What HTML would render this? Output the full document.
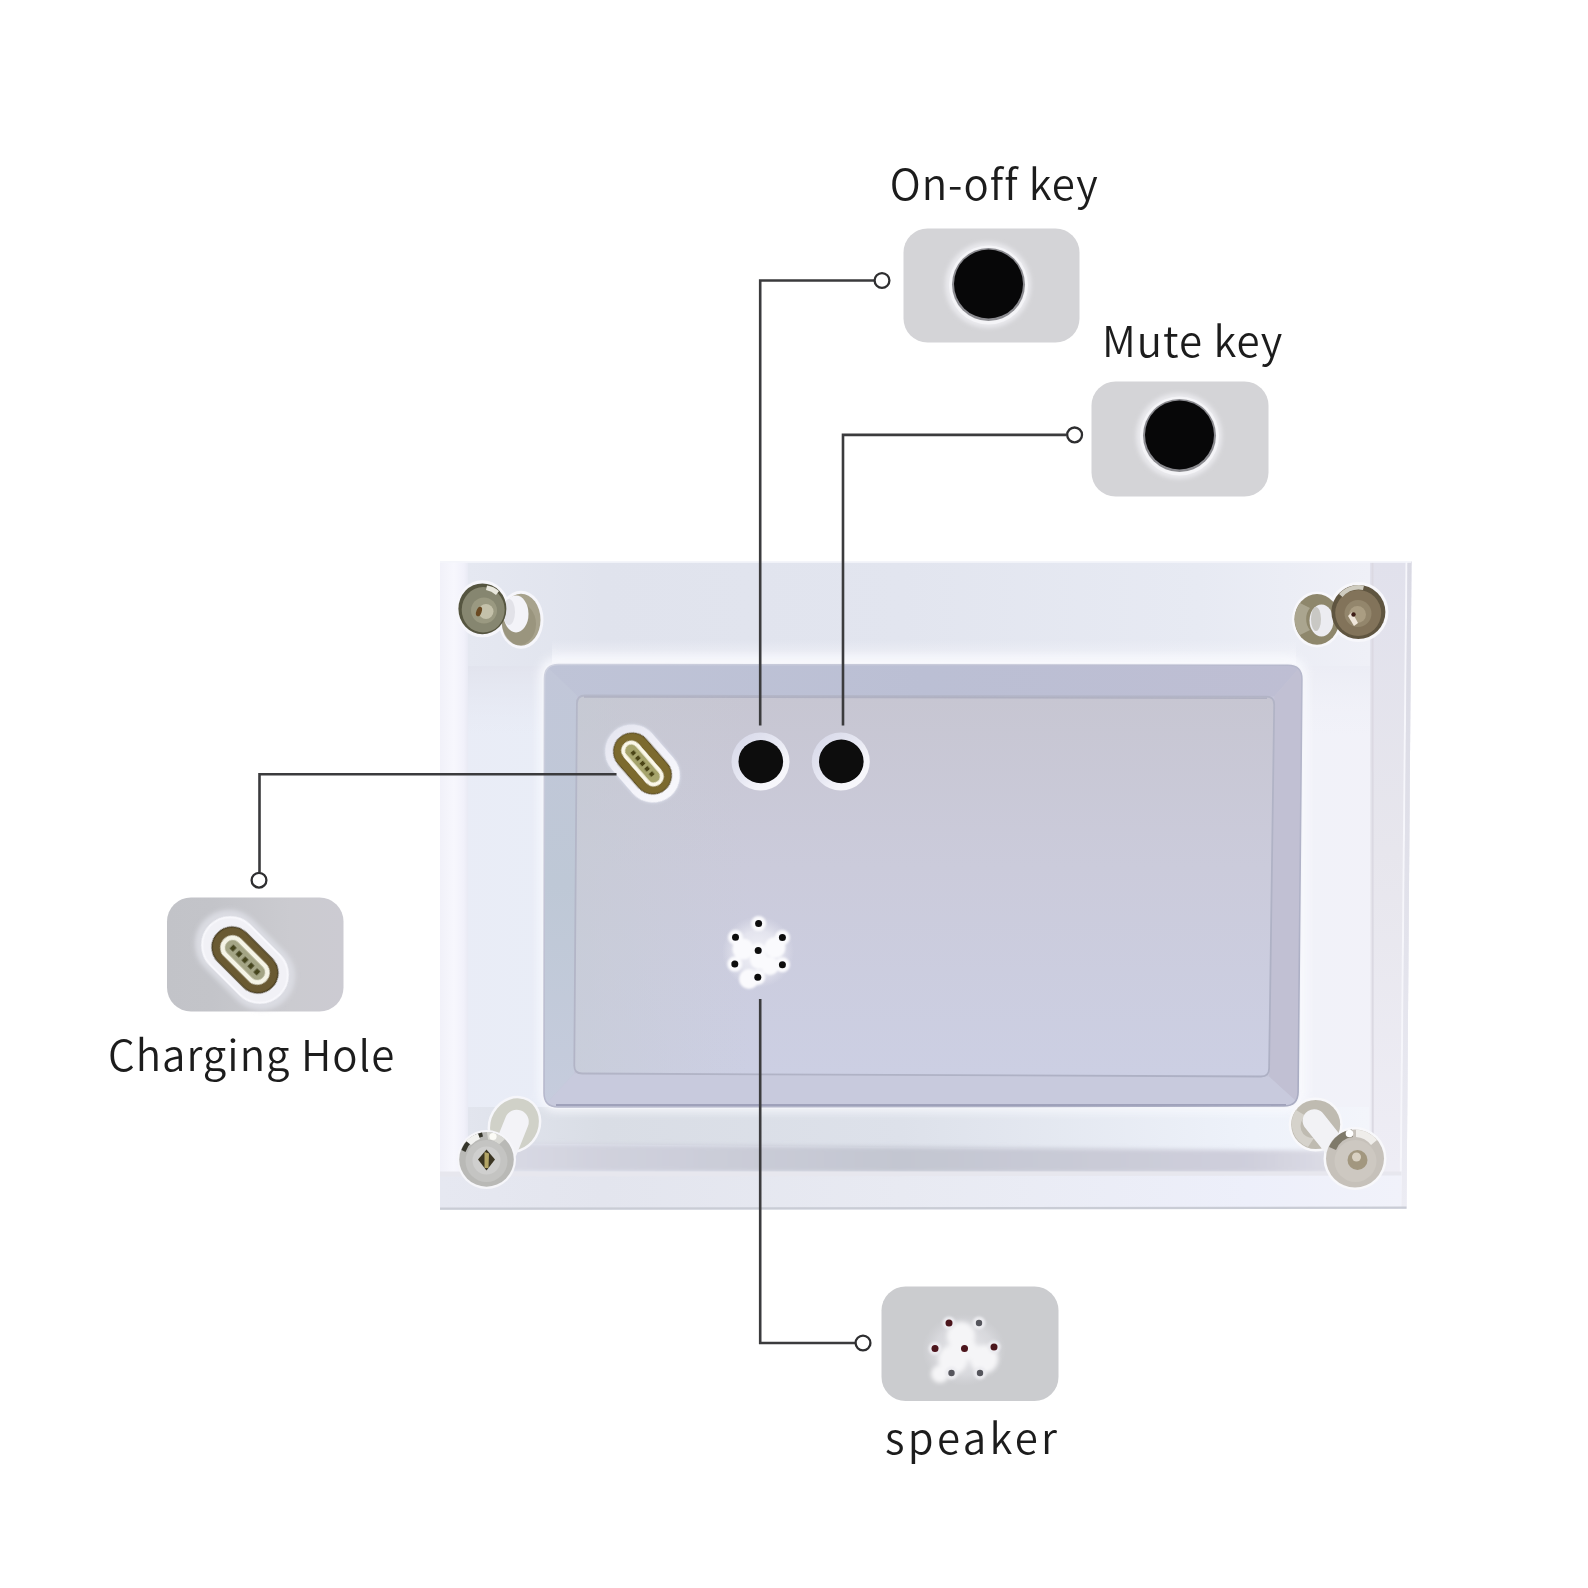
<!DOCTYPE html>
<html lang="en">
<head>
<meta charset="utf-8">
<title>Frame back – keys and ports</title>
<style>
html,body{margin:0;padding:0;background:#fff;}
body{width:1588px;height:1588px;overflow:hidden;}
svg{display:block;}
.lbl{font-family:"Noto Sans CJK SC","Liberation Sans",sans-serif;font-weight:350;font-size:42px;fill:#1c1c1c;font-variant-ligatures:none;}
.ln{fill:none;stroke:#3b3b3d;stroke-width:2.6;stroke-linejoin:miter;}
.mk{fill:#fff;stroke:#2e2e30;stroke-width:2.3;}
</style>
</head>
<body>
<svg width="1588" height="1588" viewBox="0 0 1588 1588">
<defs>
  <linearGradient id="gFrame" x1="0" y1="0" x2="1" y2="0">
    <stop offset="0" stop-color="#e9ecf6"/>
    <stop offset="0.12" stop-color="#e9edf7"/>
    <stop offset="0.5" stop-color="#eaedf6"/>
    <stop offset="0.88" stop-color="#f1f2f9"/>
    <stop offset="1" stop-color="#f2f2f9"/>
  </linearGradient>
  <linearGradient id="gTopBand" x1="0" y1="0" x2="1" y2="0">
    <stop offset="0" stop-color="#e5e8f1"/>
    <stop offset="0.15" stop-color="#e0e3ed"/>
    <stop offset="0.48" stop-color="#e2e5ef"/>
    <stop offset="0.81" stop-color="#e7eaf3"/>
    <stop offset="1" stop-color="#eff0f7"/>
  </linearGradient>
  <linearGradient id="gTopFade" x1="0" y1="0" x2="0" y2="1">
    <stop offset="0" stop-color="#f2f3f9" stop-opacity="0"/>
    <stop offset="0.6" stop-color="#f3f4fa" stop-opacity="0.7"/>
    <stop offset="1" stop-color="#f4f5fa" stop-opacity="0.95"/>
  </linearGradient>
  <linearGradient id="gBBand" x1="0" y1="0" x2="1" y2="0">
    <stop offset="0" stop-color="#e6e8f1"/>
    <stop offset="0.17" stop-color="#e3e5ee"/>
    <stop offset="0.48" stop-color="#e8eaf2"/>
    <stop offset="0.84" stop-color="#edeffa"/>
    <stop offset="1" stop-color="#f1f2fa"/>
  </linearGradient>
  <linearGradient id="gRimT" x1="0" y1="0" x2="1" y2="0">
    <stop offset="0" stop-color="#bfc4d7"/>
    <stop offset="0.5" stop-color="#bbbfd4"/>
    <stop offset="1" stop-color="#bebed3"/>
  </linearGradient>
  <linearGradient id="gRimLft" x1="0" y1="0" x2="0" y2="1">
    <stop offset="0" stop-color="#c2c7d9"/>
    <stop offset="0.5" stop-color="#bec8d6"/>
    <stop offset="1" stop-color="#c6ccdd"/>
  </linearGradient>
  <linearGradient id="gInnerH" x1="0" y1="0" x2="1" y2="0">
    <stop offset="0" stop-color="#c6ccd4" stop-opacity="0.55"/>
    <stop offset="0.25" stop-color="#c8ccd6" stop-opacity="0"/>
    <stop offset="1" stop-color="#c8c8d6" stop-opacity="0"/>
  </linearGradient>
  <linearGradient id="gInner" x1="0" y1="0" x2="1" y2="0">
    <stop offset="0" stop-color="#d4d5e0"/>
    <stop offset="0.5" stop-color="#d2d3de"/>
    <stop offset="1" stop-color="#d0d1dc"/>
  </linearGradient>
  <linearGradient id="gRim" x1="0" y1="0" x2="0" y2="1">
    <stop offset="0" stop-color="#c6c8dc"/>
    <stop offset="0.5" stop-color="#c7c9dd"/>
    <stop offset="1" stop-color="#cacee0"/>
  </linearGradient>
  <linearGradient id="gLeft" x1="0" y1="0" x2="1" y2="0">
    <stop offset="0" stop-color="#f1f1f9"/>
    <stop offset="0.5" stop-color="#f7f7fd"/>
    <stop offset="0.85" stop-color="#f1f1fa"/>
    <stop offset="1" stop-color="#e9eaf4"/>
  </linearGradient>
  <linearGradient id="gRight" x1="0" y1="0" x2="0" y2="1">
    <stop offset="0" stop-color="#e1e1ec"/>
    <stop offset="0.45" stop-color="#e7e6ed"/>
    <stop offset="1" stop-color="#efeef6"/>
  </linearGradient>
  <linearGradient id="gBand" x1="0" y1="0" x2="1" y2="0">
    <stop offset="0" stop-color="#dcdde7"/>
    <stop offset="0.15" stop-color="#d0d1dd"/>
    <stop offset="0.48" stop-color="#c3c6d1"/>
    <stop offset="0.87" stop-color="#cfcfdc"/>
    <stop offset="1" stop-color="#e2e2ea"/>
  </linearGradient>
  <linearGradient id="gRimEdge" x1="0" y1="0" x2="1" y2="1">
    <stop offset="0" stop-color="#cfd2e0"/>
    <stop offset="0.5" stop-color="#b6b8cc"/>
    <stop offset="1" stop-color="#a9acc2"/>
  </linearGradient>
  <linearGradient id="gInnerEdge" x1="0" y1="0" x2="1" y2="1">
    <stop offset="0" stop-color="#b4b7c8"/>
    <stop offset="0.5" stop-color="#b2b4c6"/>
    <stop offset="1" stop-color="#adb0c4"/>
  </linearGradient>
  <linearGradient id="gInnerV" x1="0" y1="0" x2="0" y2="1">
    <stop offset="0" stop-color="#c7c6d2"/>
    <stop offset="0.45" stop-color="#cbcbdb"/>
    <stop offset="1" stop-color="#cccfe3"/>
  </linearGradient>
  <radialGradient id="gInnerTR" cx="1" cy="0" r="0.6">
    <stop offset="0" stop-color="#c9cad6" stop-opacity="0.6"/>
    <stop offset="0.5" stop-color="#cbccd8" stop-opacity="0.25"/>
    <stop offset="1" stop-color="#cdceda" stop-opacity="0"/>
  </radialGradient>
  <linearGradient id="gEdgeR" x1="0" y1="0" x2="0" y2="1">
    <stop offset="0" stop-color="#d9d9e3"/>
    <stop offset="0.6" stop-color="#e3e3ec"/>
    <stop offset="1" stop-color="#ececf3"/>
  </linearGradient>
  <radialGradient id="gSpk" cx="0.5" cy="0.5" r="0.5">
    <stop offset="0" stop-color="#f4f4f9" stop-opacity="0.95"/>
    <stop offset="0.6" stop-color="#eeeef5" stop-opacity="0.7"/>
    <stop offset="1" stop-color="#e6e6ef" stop-opacity="0"/>
  </radialGradient>
  <linearGradient id="gRimL" x1="0" y1="0" x2="0" y2="1">
    <stop offset="0" stop-color="#b8c0d3" stop-opacity="0"/>
    <stop offset="0.3" stop-color="#bcc5d8" stop-opacity="0.45"/>
    <stop offset="0.7" stop-color="#bcc5d8" stop-opacity="0.45"/>
    <stop offset="1" stop-color="#b8c0d3" stop-opacity="0"/>
  </linearGradient>
  <radialGradient id="gSpk2" cx="0.5" cy="0.5" r="0.5">
    <stop offset="0" stop-color="#ececf0" stop-opacity="0.9"/>
    <stop offset="0.7" stop-color="#e4e4e9" stop-opacity="0.5"/>
    <stop offset="1" stop-color="#dcdce2" stop-opacity="0"/>
  </radialGradient>
  <linearGradient id="gWBand" x1="0" y1="0" x2="1" y2="0">
    <stop offset="0" stop-color="#e2e5ee"/>
    <stop offset="0.15" stop-color="#d9dde5"/>
    <stop offset="0.48" stop-color="#dde1ea"/>
    <stop offset="0.87" stop-color="#eef2fa"/>
    <stop offset="1" stop-color="#f3f5fb"/>
  </linearGradient>
  <radialGradient id="gInnerTL" cx="0" cy="0" r="0.32">
    <stop offset="0" stop-color="#dddee9" stop-opacity="0.95"/>
    <stop offset="0.5" stop-color="#d8d9e4" stop-opacity="0.5"/>
    <stop offset="1" stop-color="#d2d3de" stop-opacity="0"/>
  </radialGradient>
  <linearGradient id="gBoxC" x1="0" y1="0" x2="1" y2="0">
    <stop offset="0" stop-color="#c2c3c8"/>
    <stop offset="0.25" stop-color="#c3c4c9"/>
    <stop offset="0.7" stop-color="#cbcbd0"/>
    <stop offset="1" stop-color="#cccbd2"/>
  </linearGradient>
  <linearGradient id="gFadeL" x1="0" y1="0" x2="0" y2="1">
    <stop offset="0" stop-color="#e2e4ee" stop-opacity="1"/>
    <stop offset="1" stop-color="#e6e9f3" stop-opacity="0"/>
  </linearGradient>
  <linearGradient id="gFadeR" x1="0" y1="0" x2="0" y2="1">
    <stop offset="0" stop-color="#ecedf5" stop-opacity="1"/>
    <stop offset="1" stop-color="#eff0f7" stop-opacity="0"/>
  </linearGradient>
  <linearGradient id="gRing" x1="0.1" y1="0.1" x2="0.9" y2="0.9">
    <stop offset="0" stop-color="#d9daea"/>
    <stop offset="0.45" stop-color="#e6e7f2"/>
    <stop offset="0.75" stop-color="#f5f5fa"/>
    <stop offset="1" stop-color="#f8f8fc"/>
  </linearGradient>
  <linearGradient id="gRingU" x1="0" y1="0.5" x2="1" y2="0.5">
    <stop offset="0" stop-color="#e6e7f1"/>
    <stop offset="0.5" stop-color="#f1f1f8"/>
    <stop offset="1" stop-color="#f8f8fc"/>
  </linearGradient>
  <radialGradient id="gBtn" cx="0.5" cy="0.5" r="0.5">
    <stop offset="0" stop-color="#0a0a0b"/>
    <stop offset="0.9" stop-color="#0b0b0c"/>
    <stop offset="1" stop-color="#3a3a3c"/>
  </radialGradient>
  <filter id="b06" x="-5%" y="-5%" width="110%" height="110%"><feGaussianBlur stdDeviation="0.7"/></filter>
  <filter id="b1" x="-20%" y="-20%" width="140%" height="140%"><feGaussianBlur stdDeviation="1"/></filter>
  <filter id="b2" x="-20%" y="-20%" width="140%" height="140%"><feGaussianBlur stdDeviation="2"/></filter>
  <filter id="b4" x="-30%" y="-30%" width="160%" height="160%"><feGaussianBlur stdDeviation="4"/></filter>
</defs>

<rect width="1588" height="1588" fill="#ffffff"/>

<!-- ===== FRAME ===== -->
<g id="frame">
  <path d="M440 561.500 H1411.500 L1406.500 1208.800 L440 1209.800 Z" fill="url(#gFrame)"/>
  <!-- top band (darker, bluish) -->
  <path d="M468 561.500 H1370 V666 H468 Z" fill="url(#gTopBand)"/>
  <rect x="468" y="666" width="78" height="70" fill="url(#gFadeL)"/>
  <rect x="1300" y="666" width="70" height="70" fill="url(#gFadeR)"/>
  <path d="M552 640 H1296 V668 H552 Z" fill="url(#gTopFade)"/>
  <!-- left bevel -->
  <rect x="440" y="561.500" width="28" height="648" fill="url(#gLeft)"/>
  <!-- right bevel -->
  <path d="M1370 561.500 H1411.500 L1406.500 1208.500 H1370.500 Z" fill="url(#gRight)"/>
  <path d="M1371.500 561.500 h2 l0.300 647 h-2 Z" fill="#dbd9e2"/>
  <path d="M1405.500 561.500 h2 l-6 647 h-2 Z" fill="#f6f6fb"/>
  <path d="M1407.500 561.500 h4 l-5 647 h-5 Z" fill="url(#gEdgeR)"/>
  <!-- bottom bands -->
  <path d="M468 1107 H1369 V1152 L468 1143 Z" fill="url(#gWBand)"/>
  <path d="M468 1143 L1369 1151 V1173 L468 1171.500 Z" fill="url(#gBand)" filter="url(#b2)"/>
  <path d="M440 1176 L1401.500 1173.500 L1401 1208.800 L440 1209.800 Z" fill="url(#gBBand)"/>
  <path d="M440 1171.500 L1401.500 1171.500 v4 L440 1176.500 Z" fill="#e7e7ee"/>
  <path d="M440 1207.600 L1406.500 1206.600 v2.200 L440 1209.800 Z" fill="#c9ccd5"/>
  <rect x="440" y="561" width="971" height="1.800" fill="#f4f5fa"/>
</g>

<!-- ===== INNER PANEL ===== -->
<g id="panel">
  <clipPath id="cpPanel"><path d="M544.5 678.5 Q544.5 664.5 558.5 664.5 L1288.0 665.2 Q1302.0 665.2 1301.9 679.2 L1298.1 1092.0 Q1298.0 1106.0 1284.0 1106.0 L558.0 1107.0 Q544.0 1107.0 544.0 1093.0 Z"/></clipPath>
  <rect x="539" y="657" width="768" height="455" rx="18" fill="#fafbfe" opacity="0.8" filter="url(#b4)"/>
  <path d="M542.5 678.5 Q542.5 662.5 558.5 662.5 L1288.0 663.2 Q1304.0 663.2 1303.9 679.2 L1300.1 1092.0 Q1300.0 1108.0 1284.0 1108.0 L558.0 1109.0 Q542.0 1109.0 542.0 1093.0 Z" fill="#f4f5fa"/>
  <g clip-path="url(#cpPanel)">
    <rect x="540" y="660" width="766" height="450" fill="#c4c5d8"/>
    <path d="M540 660 H1306 L1274.300 696.500 H577 Z" fill="url(#gRimT)"/>
    <path d="M1306 660 V1110 L1269 1076.500 L1274.300 696.500 Z" fill="#c1c0d3"/>
    <path d="M540 1110 H1306 L1269 1076.500 L574.200 1073.500 Z" fill="#c8cadd"/>
    <path d="M540 660 V1110 L574.200 1073.500 L577 695.500 Z" fill="url(#gRimLft)"/>
  </g>
  <path d="M544.5 678.5 Q544.5 664.5 558.5 664.5 L1288.0 665.2 Q1302.0 665.2 1301.9 679.2 L1298.1 1092.0 Q1298.0 1106.0 1284.0 1106.0 L558.0 1107.0 Q544.0 1107.0 544.0 1093.0 Z" fill="none" stroke="url(#gRimEdge)" stroke-width="1.600"/>
  <path d="M556 1105.300 L1286 1104.300" stroke="#9598b2" stroke-width="2.600" opacity="0.8" fill="none" filter="url(#b06)"/>
  <path d="M576.9 703.5 Q577.0 695.5 585.0 695.5 L1266.3 696.7 Q1274.3 696.7 1274.2 704.7 L1269.1 1068.5 Q1269.0 1076.5 1261.0 1076.5 L582.2 1073.5 Q574.2 1073.5 574.3 1065.5 Z" fill="url(#gInnerV)"/>
  <path d="M576.9 703.5 Q577.0 695.5 585.0 695.5 L1266.3 696.7 Q1274.3 696.7 1274.2 704.7 L1269.1 1068.5 Q1269.0 1076.5 1261.0 1076.5 L582.2 1073.5 Q574.2 1073.5 574.3 1065.5 Z" fill="url(#gInnerH)"/>
  <path d="M576.9 703.5 Q577.0 695.5 585.0 695.5 L1266.3 696.7 Q1274.3 696.7 1274.2 704.7 L1269.1 1068.5 Q1269.0 1076.5 1261.0 1076.5 L582.2 1073.5 Q574.2 1073.5 574.3 1065.5 Z" fill="none" stroke="url(#gInnerEdge)" stroke-width="1.800"/>
  <path d="M584 697 L1267 698.200" stroke="#a6a8ba" stroke-width="1.600" opacity="0.7" fill="none"/>
</g>

<!-- ===== PANEL FEATURES ===== -->
<g id="features">
  <!-- on-off button on panel -->
  <g id="btnA" filter="url(#b06)">
    <circle cx="760.5" cy="761.5" r="29" fill="url(#gRing)"/>
    <ellipse cx="760.8" cy="761.6" rx="22.3" ry="21.6" fill="#070708"/>
  </g>
  <g id="btnB" filter="url(#b06)">
    <circle cx="840.8" cy="761.5" r="29" fill="url(#gRing)"/>
    <ellipse cx="841.3" cy="761.4" rx="22.3" ry="21.8" fill="#070708"/>
  </g>
  <!-- usb-c on panel -->
  <g id="usbA" transform="translate(642.500 763.500) rotate(49)" filter="url(#b06)">
    <rect x="-44" y="-28" width="88" height="56" rx="28" fill="#dfe3f0" opacity="0.55" filter="url(#b1)"/>
    <rect x="-43" y="-27" width="86" height="54" rx="27" fill="url(#gRingU)"/>
    <rect x="-35" y="-19.200" width="70" height="38.400" rx="19.200" fill="#5e4f22"/>
    <rect x="-33.800" y="-18" width="67.600" height="36" rx="18" fill="#7b6a2e"/>
    <rect x="-25.200" y="-8.200" width="50.400" height="16.400" rx="8.200" fill="#a6a46c" stroke="#fbf8e9" stroke-width="3.800"/>
    <path d="M-16 0 H16" stroke="#4b4519" stroke-width="4.600" stroke-dasharray="4 3" fill="none"/>
  </g>
  <!-- speaker on panel -->
  <g id="spkA">
    <circle cx="758" cy="952" r="36" fill="url(#gSpk)"/>
    <g fill="#fafafd" filter="url(#b1)">
      <circle cx="743" cy="949" r="10.500"/>
      <circle cx="775" cy="947.500" r="10.500"/>
      <circle cx="749" cy="979" r="10"/>
      <circle cx="770" cy="966" r="9"/>
      <circle cx="759" cy="960" r="9"/>
      <circle cx="758.6" cy="923.6" r="7.5"/>
      <circle cx="735.5" cy="937.2" r="7.5"/>
      <circle cx="782.4" cy="937.6" r="7.5"/>
      <circle cx="758.2" cy="950.5" r="7.5"/>
      <circle cx="734.8" cy="964.1" r="7.5"/>
      <circle cx="782.4" cy="964.8" r="7.5"/>
      <circle cx="757.8" cy="977.3" r="7.5"/>
    </g>
    <g fill="#0c0c0e" filter="url(#b06)">
      <circle cx="758.6" cy="923.6" r="3.5"/>
      <circle cx="735.5" cy="937.2" r="3.5"/>
      <circle cx="782.4" cy="937.6" r="3.5"/>
      <circle cx="758.2" cy="950.5" r="3.5"/>
      <circle cx="734.8" cy="964.1" r="3.5"/>
      <circle cx="782.4" cy="964.8" r="3.5"/>
      <circle cx="757.8" cy="977.3" r="3.5"/>
    </g>
  </g>
</g>

<!-- ===== BOLTS ===== -->
<g id="bolts" filter="url(#b06)">
  <!-- top-left -->
  <g>
    <ellipse cx="521" cy="619.700" rx="22.500" ry="29" fill="#f6f6fb"/>
    <ellipse cx="482.400" cy="608.800" rx="27" ry="28.500" fill="#f6f6fb"/>
    <ellipse cx="521" cy="619.700" rx="19.500" ry="26" fill="#a7a28c"/>
    <ellipse cx="519" cy="624" rx="17" ry="21" fill="#8f8b73" opacity="0.55"/>
    <ellipse cx="516" cy="614" rx="12.500" ry="18.500" fill="#f3f3f8"/>
    <ellipse cx="509" cy="612" rx="6" ry="13" fill="#e2e2e8"/>
    <ellipse cx="482.400" cy="608.800" rx="24" ry="25.400" fill="#55543f"/>
    <ellipse cx="483.200" cy="609.800" rx="21.500" ry="22.800" fill="#86866f"/>
    <path d="M487 585.500 A24 25 0 0 1 499 591 L496 595 A20 21 0 0 0 486 590 Z" fill="#e9e8de"/>
    <circle cx="484" cy="610.500" r="13" fill="#9a9981"/>
    <circle cx="486" cy="611.500" r="7.500" fill="#c4c1aa"/>
    <ellipse cx="479" cy="611.500" rx="2.600" ry="5" fill="#6a4a20" transform="rotate(20 479 611.500)"/>
  </g>
  <!-- top-right -->
  <g>
    <ellipse cx="1317" cy="619.400" rx="25" ry="28" fill="#f7f7fb"/>
    <circle cx="1358.400" cy="612" r="30" fill="#f7f7fb"/>
    <ellipse cx="1317" cy="619.400" rx="22.500" ry="25.400" fill="#8e876c"/>
    <path d="M1300 603 A22 24.500 0 0 0 1300 635 L1310 630 A12 15 0 0 1 1310 608 Z" fill="#aaa58f"/>
    <ellipse cx="1321.500" cy="620.500" rx="12" ry="16" fill="#ececf1"/>
    <ellipse cx="1316" cy="619" rx="5" ry="12" fill="#c9c8c4"/>
    <circle cx="1358.400" cy="612" r="27" fill="#5f543f"/>
    <circle cx="1358.200" cy="613" r="23" fill="#82735a"/>
    <path d="M1339 594 A27 27 0 0 1 1364 585.500 L1363 590 A22.500 22.500 0 0 0 1342.500 597 Z" fill="#cfccc0"/>
    <circle cx="1358" cy="613.500" r="13.500" fill="#93866c"/>
    <circle cx="1357.500" cy="614.500" r="8.500" fill="#aa9d82"/>
    <path d="M1348 616 L1352 612 L1358 623 L1354 626 Z" fill="#efe6da"/>
    <circle cx="1353.500" cy="614.500" r="2.200" fill="#3c1f14"/>
  </g>
  <!-- bottom-left -->
  <g>
    <ellipse cx="514.500" cy="1124.500" rx="26" ry="29.500" fill="#f6f6fa" transform="rotate(30 514.500 1124.500)"/>
    <ellipse cx="514.500" cy="1124.500" rx="23.500" ry="27" fill="#d0d1c8" transform="rotate(30 514.500 1124.500)"/>
    <path d="M494 1146 L505.500 1117.500 A12 12 0 0 1 528 1126 L516 1156 Z" fill="#f3f3f7"/>
    <circle cx="486.500" cy="1159.400" r="29.500" fill="#f6f6fa"/>
    <circle cx="486.500" cy="1159.400" r="27.300" fill="#b9b9b6"/>
    <path d="M461.500 1150 A27.300 27.300 0 0 1 482 1132.500 L483 1136.500 A23 23 0 0 0 465.500 1152 Z" fill="#35342c"/>
    <path d="M466 1141 A27 27 0 0 1 478 1133.500 L480 1139 A21 21 0 0 0 471 1145 Z" fill="#f2f2f0"/>
    <path d="M487 1132 A27.300 27.300 0 0 1 505 1139 L499 1144.500 A20 20 0 0 0 488 1139.500 Z" fill="#d9d9d4"/>
    <circle cx="493" cy="1136.500" r="3.600" fill="#fbfbf6"/>
    <circle cx="486.500" cy="1161" r="21" fill="#c4c4c2"/>
    <circle cx="486.500" cy="1160.500" r="14" fill="#cfcfce"/>
    <path d="M486.500 1149.500 L495 1159.500 L486.500 1170.500 L478 1159.500 Z" fill="#3b3522"/>
    <path d="M484.500 1152 L489 1153.500 L488.500 1168 L484.500 1168 Z" fill="#b3a566"/>
  </g>
  <!-- bottom-right -->
  <g>
    <circle cx="1315.700" cy="1124.500" r="27" fill="#f8f8fb"/>
    <circle cx="1355" cy="1158.500" r="31.500" fill="#f8f8fb"/>
    <circle cx="1315.700" cy="1124.500" r="24.500" fill="#bfbbb1"/>
    <path d="M1296 1110 A24.500 24.500 0 0 0 1308 1147 L1314 1138 A12 12 0 0 1 1306 1116 Z" fill="#d5d2cb"/>
    <path d="M1304.500 1127 A10.800 10.800 0 0 1 1324 1114.500 L1349 1146 L1331 1160 Z" fill="#f2f2f5"/>
    <circle cx="1355" cy="1158.500" r="29" fill="#c6c1ba"/>
    <path d="M1329 1147 A29 29 0 0 1 1352 1129.500 L1353 1137 A21 21 0 0 0 1336 1150 Z" fill="#7f7a6b"/>
    <path d="M1356 1129.500 A29 29 0 0 1 1377 1140 L1371 1145 A21 21 0 0 0 1356 1137 Z" fill="#efedea"/>
    <circle cx="1349.500" cy="1133.500" r="3.800" fill="#ffffff"/>
    <circle cx="1355.500" cy="1161" r="21" fill="#cdc8c1"/>
    <circle cx="1357.500" cy="1160" r="10" fill="#a2977f"/>
    <circle cx="1356.500" cy="1157" r="4.500" fill="#d9d1c2"/>
  </g>
</g>

<!-- ===== LINES ===== -->
<g id="lines">
  <path class="ln" d="M874 280.5 H760.2 V725.5"/>
  <path class="ln" d="M1066.5 434.9 H843 V725.5"/>
  <path class="ln" d="M616.5 774.3 H259.5 V872"/>
  <path class="ln" d="M760.2 999 V1343 H855"/>
  <circle class="mk" cx="882" cy="280.5" r="7.4"/>
  <circle class="mk" cx="1074.6" cy="434.9" r="7.4"/>
  <circle class="mk" cx="259" cy="880.2" r="7.4"/>
  <circle class="mk" cx="863" cy="1343" r="7.4"/>
</g>

<!-- ===== CALLOUT BOXES ===== -->
<g id="boxes">
  <rect x="903.5" y="228.5" width="176" height="114" rx="24" fill="#d4d4d7"/>
  <rect x="1091.5" y="381.5" width="177" height="115" rx="24" fill="#d4d4d7"/>
  <rect x="167" y="897.5" width="176.5" height="114" rx="24" fill="url(#gBoxC)"/>
  <rect x="881.5" y="1286.5" width="177" height="114.5" rx="24" fill="#cbcccf"/>
</g>


<!-- ===== CALLOUT CONTENT ===== -->
<g id="calloutContent">
  <!-- on-off -->
  <g>
    <circle cx="988" cy="285" r="43" fill="#e9e9ed" filter="url(#b2)"/>
    <circle cx="988.500" cy="285" r="39.500" fill="#f4f4f7"/>
    <circle cx="988.500" cy="284.500" r="36.500" fill="#8b8b90"/>
    <circle cx="988.500" cy="284" r="34.500" fill="#070708"/>
  </g>
  <!-- mute -->
  <g>
    <circle cx="1179" cy="436" r="43" fill="#e9e9ed" filter="url(#b2)"/>
    <circle cx="1179.500" cy="436" r="39.500" fill="#f4f4f7"/>
    <circle cx="1179.500" cy="435.500" r="36.500" fill="#8b8b90"/>
    <circle cx="1179.500" cy="435" r="34.500" fill="#070708"/>
  </g>
  <!-- charging -->
  <g transform="translate(245 960) rotate(45)" filter="url(#b06)">
    <rect x="-57" y="-34" width="114" height="68" rx="34" fill="#dadbe2" filter="url(#b2)"/>
    <rect x="-49" y="-28" width="98" height="56" rx="28" fill="#f1f1f6" stroke="#f8f8fc" stroke-width="2"/>
    <rect x="-39" y="-20.800" width="78" height="41.600" rx="20.800" fill="#493e20"/>
    <rect x="-37.600" y="-19.400" width="75.200" height="38.800" rx="19.400" fill="#6a5a30"/>
    <rect x="-27.500" y="-10" width="55" height="20" rx="10" fill="#a4a585" stroke="#f5f4e6" stroke-width="4.600"/>
    <path d="M-19.200 0 H19.200" stroke="#45441f" stroke-width="5.400" stroke-dasharray="4.800 3.600" fill="none"/>
  </g>
  <!-- speaker -->
  <g>
    <ellipse cx="964" cy="1350" rx="42" ry="36" fill="url(#gSpk2)"/>
    <g fill="#f5f5f7" filter="url(#b2)">
      <circle cx="961" cy="1336" r="14"/>
      <circle cx="953" cy="1359.500" r="14.500"/>
      <circle cx="984" cy="1359" r="14"/>
      <circle cx="940" cy="1374" r="9"/>
      <circle cx="968" cy="1350" r="10"/>
    </g>
    <g fill="#ececf0" filter="url(#b1)">
      <circle cx="949" cy="1323" r="6.500"/>
      <circle cx="979" cy="1323" r="6.500"/>
      <circle cx="935" cy="1348.500" r="6.500"/>
      <circle cx="994" cy="1347" r="6.500"/>
      <circle cx="951.500" cy="1373" r="6.500"/>
      <circle cx="980" cy="1373" r="6.500"/>
    </g>
    <g fill="#4c121b" filter="url(#b06)">
      <circle cx="949" cy="1323" r="3.500"/>
      <circle cx="935" cy="1348.500" r="3.500"/>
      <circle cx="964.500" cy="1348.500" r="3.500"/>
      <circle cx="994" cy="1347" r="3.500"/>
    </g>
    <g fill="#55555b" filter="url(#b06)">
      <circle cx="979" cy="1323" r="3.200"/>
      <circle cx="951.500" cy="1373" r="3.200"/>
      <circle cx="980" cy="1373" r="3.200"/>
    </g>
  </g>
</g>

<!-- ===== TEXT ===== -->
<g id="labels">
  <text class="lbl" x="889.7" y="199.5" textLength="208" lengthAdjust="spacing">On-off key</text>
  <text class="lbl" x="1102" y="356.5" textLength="180.3" lengthAdjust="spacing">Mute key</text>
  <text class="lbl" x="108" y="1070.5" textLength="286.3" lengthAdjust="spacing">Charging Hole</text>
  <text class="lbl" x="885" y="1453.5" textLength="172" lengthAdjust="spacing">speaker</text>
</g>
</svg>
</body>
</html>
